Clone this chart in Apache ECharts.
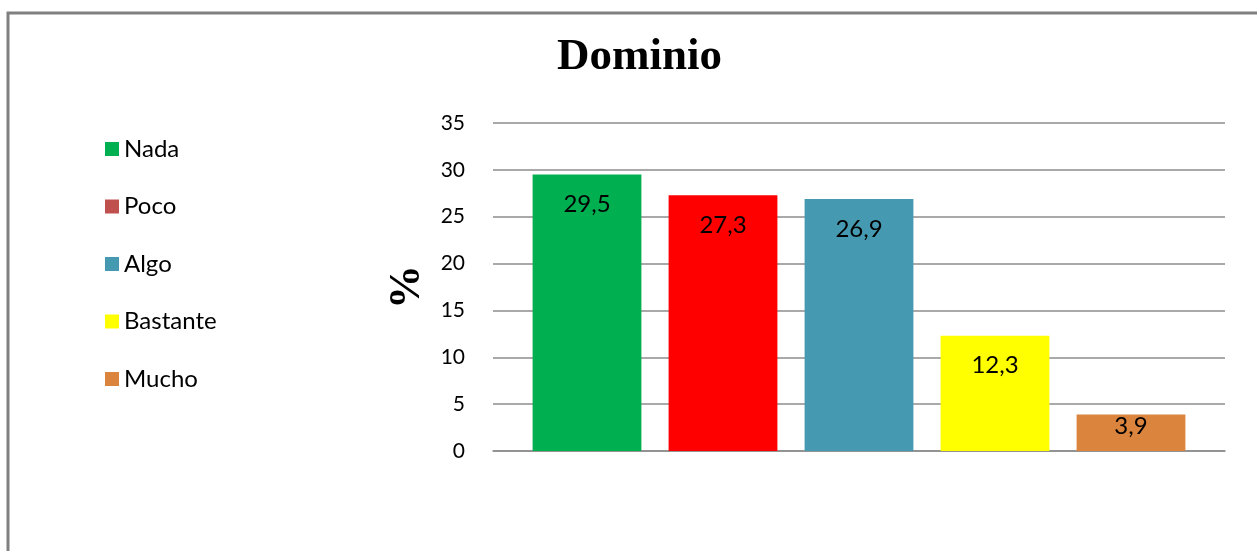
<!DOCTYPE html>
<html>
<head>
<meta charset="utf-8">
<script src="https://cdn.jsdelivr.net/npm/echarts@6/dist/echarts.min.js"></script>
<style>
  html, body { margin: 0; padding: 0; background: #fff; }
  #chart { width: 1257px; height: 551px; }
</style>
</head>
<body>
<div id="chart"></div>
<script>
// datos del gráfico
var categorias = ['Nada', 'Poco', 'Algo', 'Bastante', 'Mucho'];
var valores = [29.5, 27.3, 26.9, 12.3, 3.9];
var coloresBarra = ['#00B050', '#FF0000', '#4599B0', '#FFFF00', '#DB843D'];
var coloresLeyenda = ['#00B050', '#C0504D', '#4599B0', '#FFFF00', '#DB843D'];
var ticksY = [0, 5, 10, 15, 20, 25, 30, 35];

var myChart = echarts.init(document.getElementById('chart'));

var fuente = 'Lato';

// una serie por categoría, apiladas para que cada barra quede centrada
var series = categorias.map(function (nombre, i) {
	var datos = categorias.map(function (c, j) {
		if (j !== i) return '-';
		return {
			value: valores[i],
			label: { distance: valores[i] < 5 ? 0 : 18 }
		};
	});
	return {
		name: nombre,
		type: 'bar',
		stack: 'total',
		xAxisIndex: 1,
		yAxisIndex: 1,
		barWidth: '80%',
		itemStyle: { color: coloresBarra[i] },
		label: {
			show: true,
			position: 'insideTop',
			fontFamily: fuente,
			fontSize: 24,
			color: '#000',
			formatter: function (p) { return String(p.value).replace('.', ','); }
		},
		data: datos
	};
});

var option = {
	animation: false,
	title: {
		text: 'Dominio',
		left: 552,
		top: 30,
		textStyle: {
			fontFamily: 'Liberation Serif',
			fontWeight: 'bold',
			fontSize: 45,
			color: '#000'
		}
	},
	legend: {
		orient: 'vertical',
		left: 100,
		top: 132,
		itemWidth: 14,
		itemHeight: 14,
		itemGap: 33.5,
		icon: 'rect',
		textStyle: { fontFamily: fuente, fontSize: 24, color: '#000' },
		data: categorias.map(function (c, i) {
			return { name: c, itemStyle: { color: coloresLeyenda[i] } };
		})
	},
	graphic: [{
		type: 'rect',
		shape: { x: 8, y: 13, width: 1300, height: 600 },
		style: { fill: 'none', stroke: '#808080', lineWidth: 3 },
		silent: true
	}],
	grid: [
		{ left: 493, right: 32, top: 123, height: 328 },
		{ left: 519, right: 58, top: 123, height: 328 }
	],
	xAxis: [
		{
			type: 'category', gridIndex: 0, data: categorias,
			axisLine: { show: true, lineStyle: { color: '#8c8c8c', width: 1.5 } },
			axisTick: { show: false }, axisLabel: { show: false }
		},
		{
			type: 'category', gridIndex: 1, data: categorias,
			axisLine: { show: false }, axisTick: { show: false }, axisLabel: { show: false }
		}
	],
	yAxis: [
		{
			type: 'value', gridIndex: 0,
			min: ticksY[0], max: ticksY[ticksY.length - 1], interval: 5,
			name: '%',
			nameLocation: 'middle',
			nameRotate: 90,
			nameGap: 60,
			nameTextStyle: { fontFamily: 'Liberation Serif', fontWeight: 'bold', fontSize: 44, color: '#000' },
			axisLine: { show: false }, axisTick: { show: false },
			axisLabel: { margin: 28, fontFamily: fuente, fontSize: 21, color: '#000' },
			splitLine: { lineStyle: { color: '#8c8c8c', width: 1.5 } }
		},
		{
			type: 'value', gridIndex: 1,
			min: ticksY[0], max: ticksY[ticksY.length - 1], interval: 5,
			show: false, splitLine: { show: false }
		}
	],
	series: series
};
myChart.setOption(option);
</script>
</body>
</html>
